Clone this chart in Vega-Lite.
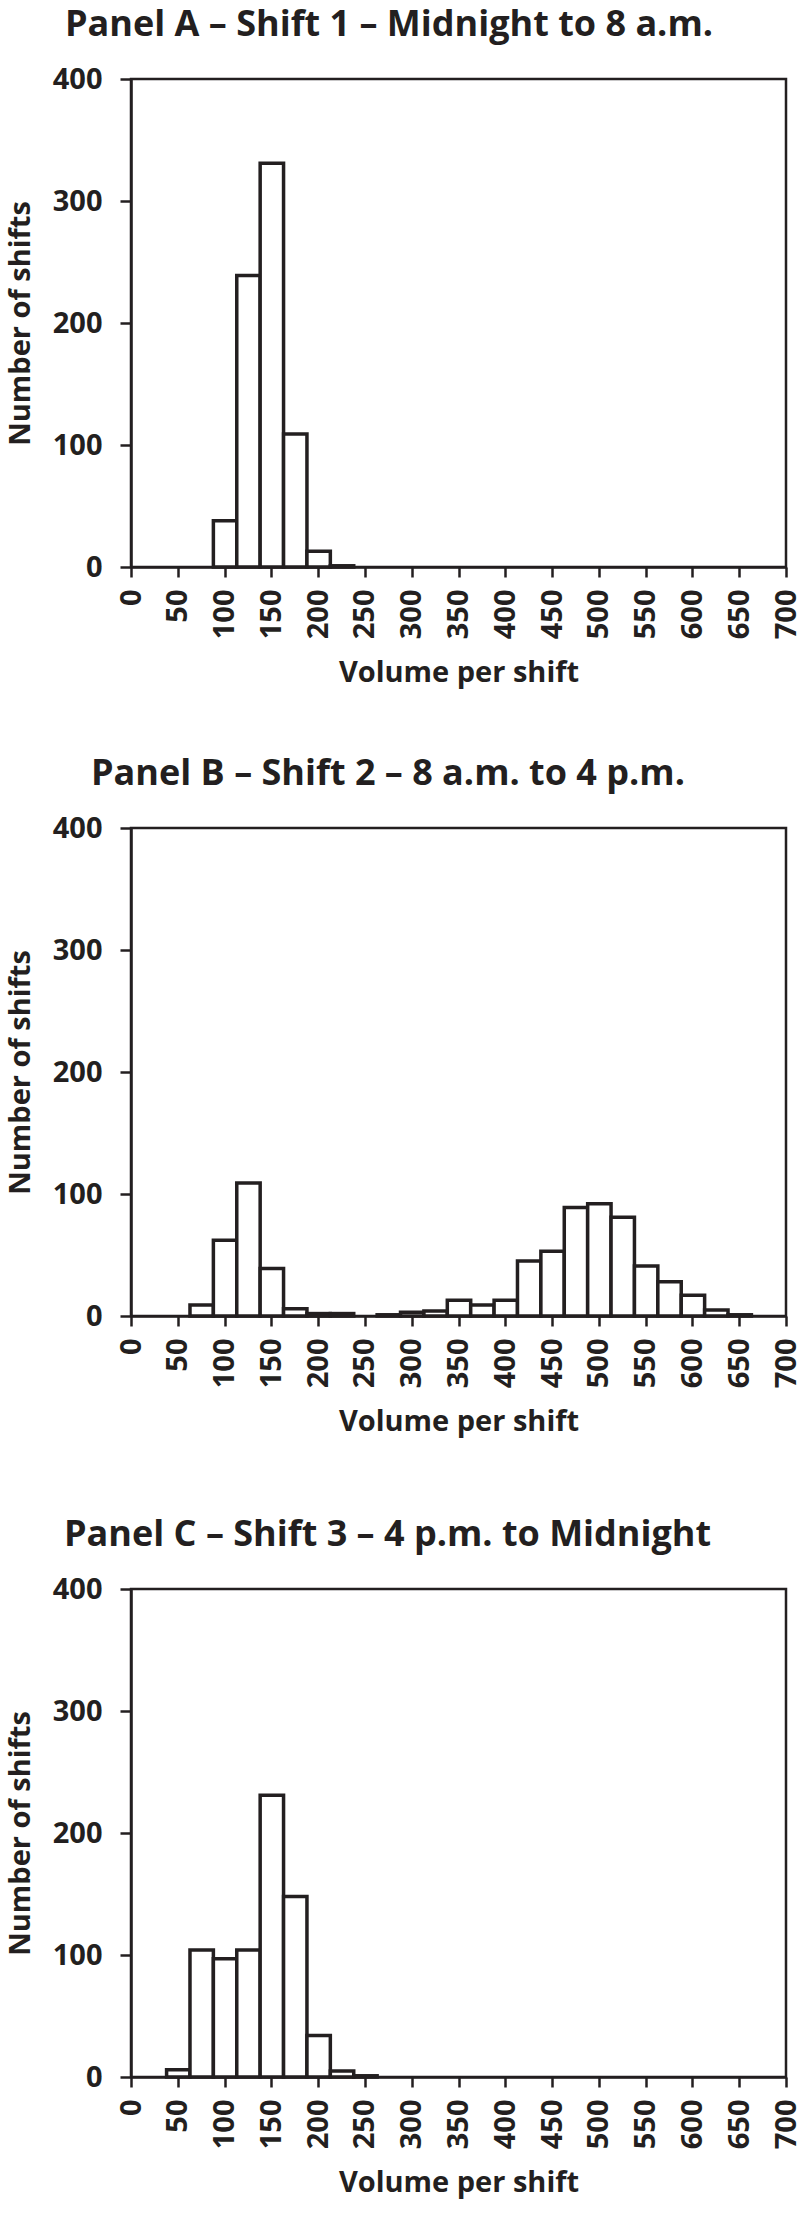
{
  "$schema": "https://vega.github.io/schema/vega-lite/v6.json",
  "background": "white",
  "padding": {"left": 5, "top": 5, "right": 0, "bottom": 0},
  "config": {
    "font": "Open Sans",
    "view": {"stroke": "#231f20", "strokeWidth": 2.5},
    "axis": {
      "grid": false,
      "domainColor": "#231f20",
      "domainWidth": 2.5,
      "tickColor": "#231f20",
      "tickWidth": 2.5,
      "tickSize": 11,
      "labelFont": "Open Sans",
      "labelFontSize": 29,
      "labelFontWeight": "bold",
      "labelColor": "#231f20",
      "titleFont": "Open Sans",
      "titleFontSize": 29,
      "titleFontWeight": "bold",
      "titleColor": "#231f20"
    },
    "axisX": {"labelAngle": -90, "labelPadding": 12, "tickSize": 10, "titlePadding": 20},
    "axisY": {"labelPadding": 18, "titlePadding": 17},
    "title": {"font": "Open Sans", "fontSize": 36, "fontWeight": "bold", "color": "#231f20", "anchor": "start", "frame": "group", "offset": 21}
  },
  "datasets": {
    "A": [
      {"lo": 87.5, "hi": 112.5, "count": 38},
      {"lo": 112.5, "hi": 137.5, "count": 239},
      {"lo": 137.5, "hi": 162.5, "count": 331},
      {"lo": 162.5, "hi": 187.5, "count": 109},
      {"lo": 187.5, "hi": 212.5, "count": 13},
      {"lo": 212.5, "hi": 237.5, "count": 1}
    ],
    "B": [
      {"lo": 62.5, "hi": 87.5, "count": 9},
      {"lo": 87.5, "hi": 112.5, "count": 62},
      {"lo": 112.5, "hi": 137.5, "count": 109},
      {"lo": 137.5, "hi": 162.5, "count": 39},
      {"lo": 162.5, "hi": 187.5, "count": 6},
      {"lo": 187.5, "hi": 212.5, "count": 2},
      {"lo": 212.5, "hi": 237.5, "count": 2},
      {"lo": 262.5, "hi": 287.5, "count": 1},
      {"lo": 287.5, "hi": 312.5, "count": 3},
      {"lo": 312.5, "hi": 337.5, "count": 4},
      {"lo": 337.5, "hi": 362.5, "count": 13},
      {"lo": 362.5, "hi": 387.5, "count": 9},
      {"lo": 387.5, "hi": 412.5, "count": 13},
      {"lo": 412.5, "hi": 437.5, "count": 45},
      {"lo": 437.5, "hi": 462.5, "count": 53},
      {"lo": 462.5, "hi": 487.5, "count": 89},
      {"lo": 487.5, "hi": 512.5, "count": 92},
      {"lo": 512.5, "hi": 537.5, "count": 81},
      {"lo": 537.5, "hi": 562.5, "count": 41},
      {"lo": 562.5, "hi": 587.5, "count": 28},
      {"lo": 587.5, "hi": 612.5, "count": 17},
      {"lo": 612.5, "hi": 637.5, "count": 5},
      {"lo": 637.5, "hi": 662.5, "count": 1}
    ],
    "C": [
      {"lo": 37.5, "hi": 62.5, "count": 6},
      {"lo": 62.5, "hi": 87.5, "count": 104},
      {"lo": 87.5, "hi": 112.5, "count": 97},
      {"lo": 112.5, "hi": 137.5, "count": 104},
      {"lo": 137.5, "hi": 162.5, "count": 231},
      {"lo": 162.5, "hi": 187.5, "count": 148},
      {"lo": 187.5, "hi": 212.5, "count": 34},
      {"lo": 212.5, "hi": 237.5, "count": 5},
      {"lo": 237.5, "hi": 262.5, "count": 1}
    ]
  },
  "vconcat": [
    {
      "vconcat": [
        {
          "title": {"text": "Panel A – Shift 1 – Midnight to 8 a.m.", "dx": -66},
          "width": 655,
          "height": 488,
          "data": {"name": "A"},
          "mark": {"type": "bar", "fill": "white", "stroke": "#231f20", "strokeWidth": 3.5, "binSpacing": 0},
          "encoding": {
            "x": {"field": "lo", "type": "quantitative", "bin": "binned", "scale": {"domain": [0, 700], "nice": false}, "axis": {"values": [0, 50, 100, 150, 200, 250, 300, 350, 400, 450, 500, 550, 600, 650, 700], "title": "Volume per shift"}},
            "x2": {"field": "hi"},
            "y": {"field": "count", "type": "quantitative", "scale": {"domain": [0, 400], "nice": false}, "axis": {"values": [0, 100, 200, 300, 400], "title": "Number of shifts"}}
          }
        },
        {
          "title": {"text": "Panel B – Shift 2 – 8 a.m. to 4 p.m.", "dx": -40},
          "width": 655,
          "height": 488,
          "data": {"name": "B"},
          "mark": {"type": "bar", "fill": "white", "stroke": "#231f20", "strokeWidth": 3.5, "binSpacing": 0},
          "encoding": {
            "x": {"field": "lo", "type": "quantitative", "bin": "binned", "scale": {"domain": [0, 700], "nice": false}, "axis": {"values": [0, 50, 100, 150, 200, 250, 300, 350, 400, 450, 500, 550, 600, 650, 700], "title": "Volume per shift"}},
            "x2": {"field": "hi"},
            "y": {"field": "count", "type": "quantitative", "scale": {"domain": [0, 400], "nice": false}, "axis": {"values": [0, 100, 200, 300, 400], "title": "Number of shifts"}}
          }
        }
      ],
      "spacing": 65
    },
    {
      "title": {"text": "Panel C – Shift 3 – 4 p.m. to Midnight", "dx": -67},
      "width": 655,
      "height": 488,
      "data": {"name": "C"},
      "mark": {"type": "bar", "fill": "white", "stroke": "#231f20", "strokeWidth": 3.5, "binSpacing": 0},
      "encoding": {
        "x": {"field": "lo", "type": "quantitative", "bin": "binned", "scale": {"domain": [0, 700], "nice": false}, "axis": {"values": [0, 50, 100, 150, 200, 250, 300, 350, 400, 450, 500, 550, 600, 650, 700], "title": "Volume per shift"}},
        "x2": {"field": "hi"},
        "y": {"field": "count", "type": "quantitative", "scale": {"domain": [0, 400], "nice": false}, "axis": {"values": [0, 100, 200, 300, 400], "title": "Number of shifts"}}
      }
    }
  ],
  "spacing": 77
}
